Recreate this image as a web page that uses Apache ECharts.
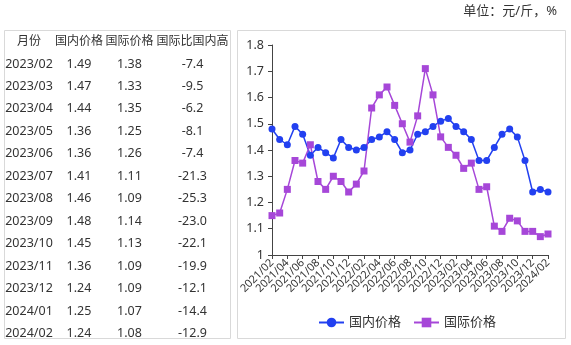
<!DOCTYPE html>
<html><head><meta charset="utf-8">
<script src="https://cdn.jsdelivr.net/npm/echarts@6/dist/echarts.min.js"></script>
<style>html,body{margin:0;padding:0;background:#fff}#c{width:571px;height:345px}</style>
</head><body><div id="c"></div>
<script>
const months = ['2021/02','2021/03','2021/04','2021/05','2021/06','2021/07','2021/08','2021/09','2021/10','2021/11','2021/12',
'2022/01','2022/02','2022/03','2022/04','2022/05','2022/06','2022/07','2022/08','2022/09','2022/10','2022/11','2022/12',
'2023/01','2023/02','2023/03','2023/04','2023/05','2023/06','2023/07','2023/08','2023/09','2023/10','2023/11','2023/12',
'2024/01','2024/02'];
const domestic = [1.48,1.44,1.42,1.49,1.46,1.38,1.41,1.39,1.37,1.44,1.41,1.40,1.41,1.44,1.45,1.47,1.44,1.39,1.40,1.46,1.47,1.49,1.51,1.52,1.49,1.47,1.44,1.36,1.36,1.41,1.46,1.48,1.45,1.36,1.24,1.25,1.24];
const international = [1.15,1.16,1.25,1.36,1.35,1.42,1.28,1.25,1.30,1.28,1.24,1.27,1.32,1.56,1.61,1.64,1.57,1.50,1.43,1.53,1.71,1.61,1.45,1.41,1.38,1.33,1.35,1.25,1.26,1.11,1.09,1.14,1.13,1.09,1.09,1.07,1.08];
const tableHeader = ['月份','国内价格','国际价格','国际比国内高'];
const tableMonths = ['2023/02','2023/03','2023/04','2023/05','2023/06','2023/07','2023/08','2023/09','2023/10','2023/11','2023/12','2024/01','2024/02'];
const tableDomestic = ['1.49','1.47','1.44','1.36','1.36','1.41','1.46','1.48','1.45','1.36','1.24','1.25','1.24'];
const tableIntl = ['1.38','1.33','1.35','1.25','1.26','1.11','1.09','1.14','1.13','1.09','1.09','1.07','1.08'];
const tableDiff = ['-7.4','-9.5','-6.2','-8.1','-7.4','-21.3','-25.3','-23.0','-22.1','-19.9','-12.1','-14.4','-12.9'];
const unitText = '单位：元/斤，%';

const FONT = '"Noto Sans","Noto Sans CJK SC",sans-serif';
const chart = echarts.init(document.getElementById('c'), null, {renderer:'canvas'});

const graphics = [];
graphics.push({type:'rect', shape:{x:4.5,y:30.5,width:226,height:308}, style:{fill:'none',stroke:'#d9d9d9',lineWidth:1}, silent:true});
graphics.push({type:'rect', shape:{x:237.5,y:30.5,width:328,height:308}, style:{fill:'none',stroke:'#d9d9d9',lineWidth:1}, silent:true});
graphics.push({type:'text', right:14, top:5, style:{text:unitText, font:'13px '+FONT, fill:'#333'}});
const colX = [29, 79, 129.5, 192.5];
tableHeader.forEach((h,i)=>{
  graphics.push({type:'text', x:colX[i], y:42, style:{text:h, font:'12px '+FONT, fill:'#333', align:'center', verticalAlign:'middle'}});
});
tableMonths.forEach((m,r)=>{
  const y = 64 + r*22.45;
  [m, tableDomestic[r], tableIntl[r], tableDiff[r]].forEach((t,i)=>{
    graphics.push({type:'text', x:colX[i], y:y, style:{text:t, font:'12.5px '+FONT, fill:'#333', align:'center', verticalAlign:'middle'}});
  });
});

chart.setOption({
  animation:false,
  textStyle:{fontFamily:FONT},
  graphic: graphics,
  grid:{left:272, right:23, top:45, bottom:90},
  legend:{
    bottom:11, left:313, itemWidth:25, itemHeight:12, itemGap:12,
    textStyle:{fontSize:13, color:'#333', fontFamily:FONT},
    data:['国内价格','国际价格']
  },
  xAxis:{
    type:'category', data:months, boundaryGap:false,
    axisLine:{lineStyle:{color:'#444', width:1}},
    axisTick:{interval:1, length:4, lineStyle:{color:'#444'}},
    axisLabel:{interval:1, rotate:45, fontSize:11, lineHeight:8, color:'#333', margin:6, fontFamily:FONT,
      showMinLabel:true, showMaxLabel:true, hideOverlap:false}
  },
  yAxis:{
    type:'value', min:1, max:1.8, interval:0.1,
    axisLine:{show:true, lineStyle:{color:'#444', width:1}},
    axisTick:{show:true, length:4, lineStyle:{color:'#444'}},
    splitLine:{show:false},
    axisLabel:{fontSize:12.5, color:'#333', margin:8, fontFamily:FONT,
      formatter:v=>String(Math.round(v*10)/10)}
  },
  series:[
    {name:'国内价格', type:'line', data:domestic, symbol:'circle', symbolSize:7, showAllSymbol:true,
      itemStyle:{color:'#2240f0'}, lineStyle:{color:'#2240f0', width:1.5}},
    {name:'国际价格', type:'line', data:international, symbol:'rect', symbolSize:7, showAllSymbol:true,
      itemStyle:{color:'#a647d8'}, lineStyle:{color:'#a647d8', width:1.5}}
  ]
});
</script></body></html>
